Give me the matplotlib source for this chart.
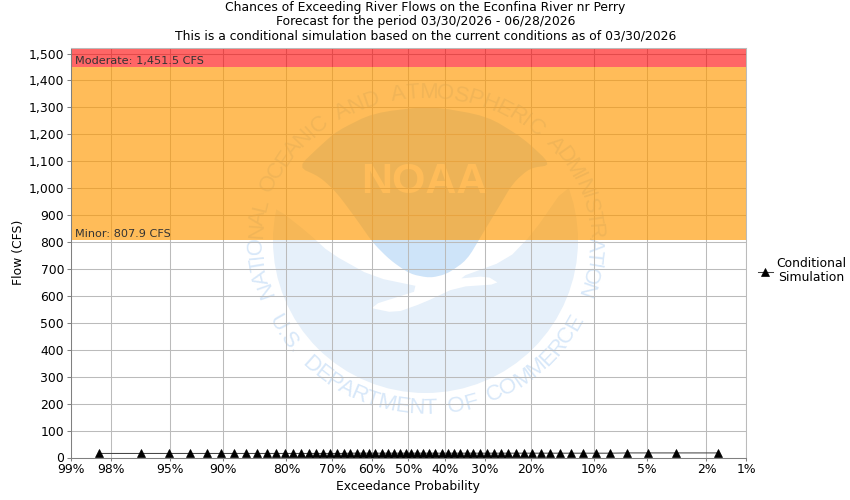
import numpy as np
import matplotlib
matplotlib.use('Agg')
import matplotlib.pyplot as plt
from matplotlib.patches import Circle, Polygon
from statistics import NormalDist

title_lines = ['Chances of Exceeding River Flows on the Econfina River nr Perry',
               'Forecast for the period 03/30/2026 - 06/28/2026',
               'This is a conditional simulation based on the current conditions as of 03/30/2026']

# exceedance probability (%) and flow (CFS)
prob = [98.36, 96.72, 95.08, 93.44, 91.80, 90.16, 88.52, 86.89, 85.25, 83.61,
        81.97, 80.33, 78.69, 77.05, 75.41, 73.77, 72.13, 70.49, 68.85, 67.21,
        65.57, 63.93, 62.30, 60.66, 59.02, 57.38, 55.74, 54.10, 52.46, 50.82,
        49.18, 47.54, 45.90, 44.26, 42.62, 40.98, 39.34, 37.70, 36.07, 34.43,
        32.79, 31.15, 29.51, 27.87, 26.23, 24.59, 22.95, 21.31, 19.67, 18.03,
        16.39, 14.75, 13.11, 11.48, 9.84, 8.20, 6.56, 4.92, 3.28, 1.64]
flow = [15, 15, 15, 15, 15, 15, 15, 15, 15, 15,
        15, 15, 15, 15, 15, 15, 15, 15, 15, 15,
        16, 16, 16, 16, 16, 16, 16, 16, 16, 16,
        16, 16, 16, 16, 16, 16, 16, 16, 16, 16,
        16, 16, 16, 16, 16, 16, 16, 16, 16, 16,
        16, 16, 16, 16, 16, 16, 17, 17, 17, 17]

x_ticks = [99, 98, 95, 90, 80, 70, 60, 50, 40, 30, 20, 10, 5, 2, 1]
y_ticks = [0, 100, 200, 300, 400, 500, 600, 700, 800, 900, 1000, 1100, 1200, 1300, 1400, 1500]
minor_flow = 807.9
moderate_flow = 1451.5

plt.rcParams['font.family'] = 'DejaVu Sans'
FS = 8.95
nd = NormalDist()
inv = np.vectorize(lambda p: nd.inv_cdf(min(max(p / 100.0, 1e-6), 1 - 1e-6)), otypes=[float])
cdf = np.vectorize(lambda z: nd.cdf(z) * 100.0, otypes=[float])

fig = plt.figure(figsize=(8.5, 5), dpi=100)

# watermark behind the plot, in pixel coordinates
bg = fig.add_axes([0, 0, 1, 1], zorder=0)
bg.set_xlim(0, 850)
bg.set_ylim(500, 0)
bg.axis('off')
light = '#E6F0FA'
dark = '#CEE4F9'
cx, cy = 425.5, 240.5


def smooth(pts, n=2):
    # corner cutting so the logo outline is not so angular
    p = np.array(pts, dtype=float)
    for _ in range(n):
        q = np.roll(p, -1, axis=0)
        p = np.column_stack([0.8 * p + 0.2 * q, 0.2 * p + 0.8 * q]).reshape(-1, 2)
    return p


bg.add_patch(Circle((cx, cy), 152.5, fc=light, ec='none'))
bg.add_patch(Polygon(smooth([(262, 205), (279, 210), (307, 232), (330, 253), (373, 277), (426, 288),
                             (366, 307), (395, 313), (423, 303), (457, 287), (500, 284), (487, 276),
                             (455, 279), (507, 260), (533, 233), (565, 187), (590, 187), (590, 70), (262, 70)], 1),
                     fc='white', ec='none'))
bg.add_patch(Polygon(smooth([(298, 167), (320, 146), (337, 131), (373, 113), (430, 106), (487, 116),
                             (523, 138), (552, 165), (530, 168), (513, 183), (497, 210), (483, 233),
                             (467, 260), (447, 274), (430, 278), (410, 274), (390, 260), (373, 243),
                             (357, 220), (337, 193), (320, 177)]), fc=dark, ec='none'))
bg.text(424, 182, 'NOAA', color='white', fontsize=31, fontweight='bold',
        family='Liberation Sans', ha='center', va='center')


def arc_text(s, start, end, rx, ry, flip):
    # lay the letters one by one along an ellipse
    r = fig.canvas.get_renderer()
    w = []
    for c in s:
        t = bg.text(0, 0, c if c != ' ' else 'n', fontsize=16, family='Liberation Sans')
        w.append(t.get_window_extent(r).width + 2)
        t.remove()
    w = np.array(w)
    pos = (np.cumsum(w) - w / 2) / w.sum()
    for c, f in zip(s, pos):
        a = np.radians(start + (end - start) * f)
        px = cx + rx * np.cos(a)
        py = cy - ry * np.sin(a)
        rot = np.degrees(a) - 90 if not flip else np.degrees(a) + 90
        bg.text(px, py, c, color='#D8E8F9', fontsize=16, rotation=rot, family='Liberation Sans',
                rotation_mode='anchor', ha='center', va='center')


arc_text('NATIONAL OCEANIC AND ATMOSPHERIC ADMINISTRATION', 202, -22, 169, 148, False)
arc_text('U.S. DEPARTMENT OF COMMERCE', 207, 333, 171, 168, True)

ax = fig.add_axes([71 / 850, 1 - 457.5 / 500, (746 - 71) / 850, 410 / 500], zorder=1)
ax.patch.set_alpha(0)
ax.set_xscale('function', functions=(inv, cdf))
ax.set_xlim(99, 1)
ax.set_ylim(0, 1522.5)
ax.set_xticks(x_ticks)
ax.set_xticklabels([str(v) + '%' for v in x_ticks])
ax.minorticks_off()
ax.set_yticks(y_ticks)
ax.set_yticklabels(['{:,}'.format(v) for v in y_ticks])
ax.set_axisbelow(True)
ax.grid(True, color='#BBBBBB', lw=0.75)

ax.axhspan(minor_flow, moderate_flow, color=(1.0, 0.6, 0.0), alpha=0.65, lw=0)
ax.axhspan(moderate_flow, 1522.5, color=(1.0, 0.0, 0.0), alpha=0.6, lw=0)
ax.annotate('Moderate: 1,451.5 CFS', (0, moderate_flow), xycoords=('axes fraction', 'data'),
            xytext=(3, 2), textcoords='offset points', fontsize=FS - 0.8, color='#333333')
ax.annotate('Minor: 807.9 CFS', (0, minor_flow), xycoords=('axes fraction', 'data'),
            xytext=(3, 2), textcoords='offset points', fontsize=FS - 0.8, color='#333333')

ax.plot(prob, flow, color='#444444', lw=0.75, marker='^', ms=5.6, mew=0.5, mfc='black', mec='black',
        zorder=4, label='Conditional\nSimulation', clip_on=False)

for s in ax.spines.values():
    s.set_color('#BBBBBB')
    s.set_linewidth(0.75)
ax.spines['left'].set_color('#808080')
ax.spines['bottom'].set_color('#808080')
ax.tick_params(axis='both', labelsize=FS, length=3, width=0.75, color='#808080', pad=2)
ax.tick_params(axis='x', length=2)
ax.set_xlabel('Exceedance Probability', fontsize=FS, labelpad=2.5)
ax.set_ylabel('Flow (CFS)', fontsize=FS, labelpad=2.5)

leg = ax.legend(loc='center left', bbox_to_anchor=(1.003, 0.455), frameon=False, fontsize=FS,
                handlelength=1.2, handletextpad=0.25, labelspacing=0, borderaxespad=0.4)
for t in leg.get_texts():
    t.set_multialignment('center')
    t.set_linespacing(1.1)

for i, line in enumerate(title_lines):
    fig.text(425.5 / 850, 1 - (8 + 14 * i) / 500, line, fontsize=FS, ha='center', va='center')

fig.savefig('out.png', dpi=100)
